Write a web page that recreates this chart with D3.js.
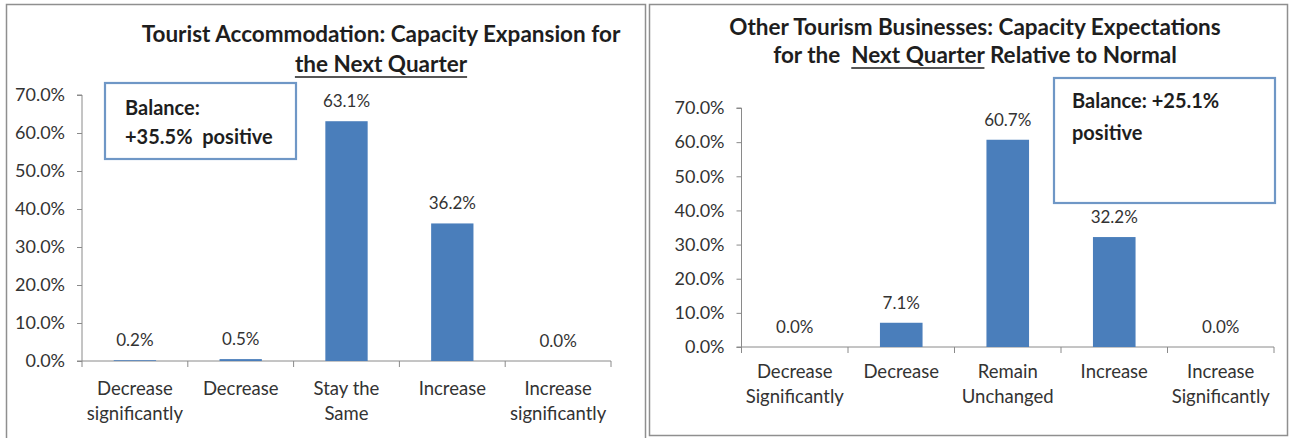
<!DOCTYPE html>
<html>
<head>
<meta charset="utf-8">
<script src="https://cdn.jsdelivr.net/npm/d3@7"></script>
<style>
  html, body { margin: 0; padding: 0; background: #fff; }
  svg { display: block; }
  text { font-family: Lato, "Open Sans", sans-serif; white-space: pre; }
</style>
</head>
<body>
<svg id="chart" width="1292" height="438"></svg>
<script>
// ---- data ----
const accomCategories = ["Decrease\nsignificantly", "Decrease", "Stay the\nSame", "Increase", "Increase\nsignificantly"];
const accomValues = [0.2, 0.5, 63.1, 36.2, 0.0];
const accomTitle = [
  [{ t: "Tourist Accommodation: Capacity Expansion for" }],
  [{ t: "the Next Quarter", u: true }]
];
const accomBalance = ["Balance:", "+35.5%  positive"];

const otherCategories = ["Decrease\nSignificantly", "Decrease", "Remain\nUnchanged", "Increase", "Increase\nSignificantly"];
const otherValues = [0.0, 7.1, 60.7, 32.2, 0.0];
const otherTitle = [
  [{ t: "Other Tourism Businesses: Capacity Expectations" }],
  [{ t: "for the  " }, { t: "Next Quarter", u: true }, { t: " Relative to Normal" }]
];
const otherBalance = ["Balance: +25.1%", "positive"];

const yTickValues = [0, 10, 20, 30, 40, 50, 60, 70];

// ---- layout ----
const panels = [
  {
    cats: accomCategories, vals: accomValues, title: accomTitle, balance: accomBalance,
    frame: { x: 6, y: 4, w: 639, h: 440 },
    plot: { x0: 82, x1: 611, yTop: 95, yBottom: 361 },
    titleX: 381, titleY: [42, 72],
    box: { x: 105, y: 83, w: 191, h: 76, tx: 125, ty: [115, 144] },
    catDy: 28
  },
  {
    cats: otherCategories, vals: otherValues, title: otherTitle, balance: otherBalance,
    frame: { x: 649, y: 4, w: 638, h: 431 },
    plot: { x0: 741.5, x1: 1274, yTop: 108, yBottom: 347 },
    titleX: 975, titleY: [35, 63],
    box: { x: 1054, y: 78, w: 221, h: 125, tx: 1072, ty: [108, 140] },
    catDy: 25
  }
];

const svg = d3.select("#chart");
const pct = d3.format(".1f");

// doubled rule between the two panels
svg.append("line")
  .attr("x1", 651.5).attr("x2", 651.5).attr("y1", 4).attr("y2", 435)
  .attr("stroke", "#9a9a9a").attr("stroke-width", 1);

panels.forEach(p => {
  const g = svg.append("g");

  g.append("rect")
    .attr("x", p.frame.x + 0.5).attr("y", p.frame.y + 0.5)
    .attr("width", p.frame.w).attr("height", p.frame.h)
    .attr("fill", "#fff").attr("stroke", "#8f8f8f").attr("stroke-width", 1.5);

  const x = d3.scaleBand().domain(p.cats).range([p.plot.x0, p.plot.x1]).padding(0);
  const y = d3.scaleLinear().domain([0, 70]).range([p.plot.yBottom, p.plot.yTop]);

  // y axis
  const yAxis = g.append("g")
    .attr("transform", `translate(${p.plot.x0},0)`)
    .call(d3.axisLeft(y).tickValues(yTickValues).tickFormat(d => pct(d) + "%").tickSize(5).tickPadding(12));
  yAxis.select(".domain").attr("stroke", "#8a8a8a").attr("d", `M-5,${y(70)}H0V${y(0)}`);
  yAxis.selectAll(".tick line").attr("stroke", "#8a8a8a");
  yAxis.selectAll(".tick text")
    .attr("fill", "#333").style("font-size", "18px").style("font-family", "Lato, sans-serif");

  // x axis with ticks at category boundaries
  const xAxis = g.append("g").attr("transform", `translate(0,${p.plot.yBottom})`);
  xAxis.append("line")
    .attr("x1", p.plot.x0 - 5).attr("x2", p.plot.x1)
    .attr("stroke", "#8a8a8a");
  const edges = p.cats.map(c => x(c)).concat([p.plot.x1]);
  xAxis.selectAll("line.edge").data(edges).join("line")
    .attr("class", "edge")
    .attr("x1", d => d).attr("x2", d => d).attr("y1", 0).attr("y2", 6)
    .attr("stroke", "#8a8a8a");

  // category labels
  const catText = xAxis.selectAll("text.cat").data(p.cats).join("text")
    .attr("class", "cat")
    .attr("x", d => x(d) + x.bandwidth() / 2)
    .attr("y", p.catDy)
    .attr("text-anchor", "middle")
    .attr("fill", "#333")
    .style("font-size", "18.5px");
  catText.selectAll("tspan").data(d => d.split("\n").map((s, i) => ({ s, i }))).join("tspan")
    .attr("x", function () { return d3.select(this.parentNode).attr("x"); })
    .attr("dy", d => d.i === 0 ? "0.35em" : 25)
    .text(d => d.s);

  // bars
  const barW = x.bandwidth() * 0.4;
  const rows = p.cats.map((c, i) => ({ c, v: p.vals[i] }));
  g.selectAll("rect.bar").data(rows).join("rect")
    .attr("class", "bar")
    .attr("x", d => x(d.c) + (x.bandwidth() - barW) / 2)
    .attr("y", d => y(d.v))
    .attr("width", barW)
    .attr("height", d => y(0) - y(d.v))
    .attr("fill", "#4a7ebb");

  // value labels
  g.selectAll("text.val").data(rows).join("text")
    .attr("class", "val")
    .attr("x", d => x(d.c) + x.bandwidth() / 2)
    .attr("y", d => y(d.v) - 20)
    .attr("dy", "0.35em")
    .attr("text-anchor", "middle")
    .attr("fill", "#333")
    .style("font-size", "17px")
    .text(d => pct(d.v) + "%");

  // title with underlined phrases
  p.title.forEach((line, li) => {
    const t = g.append("text")
      .attr("x", p.titleX).attr("y", p.titleY[li])
      .attr("text-anchor", "middle")
      .attr("fill", "#1e1e1e")
      .style("font-size", "22.5px").style("font-weight", "bold");
    t.selectAll("tspan").data(line).join("tspan").text(d => d.t);
    const node = t.node();
    let idx = 0;
    line.forEach(seg => {
      if (seg.u) {
        const a = node.getStartPositionOfChar(idx).x;
        const b = node.getEndPositionOfChar(idx + seg.t.length - 1).x;
        g.append("line")
          .attr("x1", a).attr("x2", b)
          .attr("y1", p.titleY[li] + 5).attr("y2", p.titleY[li] + 5)
          .attr("stroke", "#1e1e1e").attr("stroke-width", 1.7);
      }
      idx += seg.t.length;
    });
  });

  // balance annotation
  g.append("rect")
    .attr("x", p.box.x).attr("y", p.box.y)
    .attr("width", p.box.w).attr("height", p.box.h)
    .attr("fill", "#fff").attr("stroke", "#6f97c6").attr("stroke-width", 2.2);
  g.selectAll("text.bal").data(p.balance).join("text")
    .attr("class", "bal")
    .attr("x", p.box.tx).attr("y", (d, i) => p.box.ty[i])
    .attr("fill", "#1e1e1e")
    .style("font-size", "20px").style("font-weight", "bold")
    .text(d => d);
});
</script>
</body>
</html>
